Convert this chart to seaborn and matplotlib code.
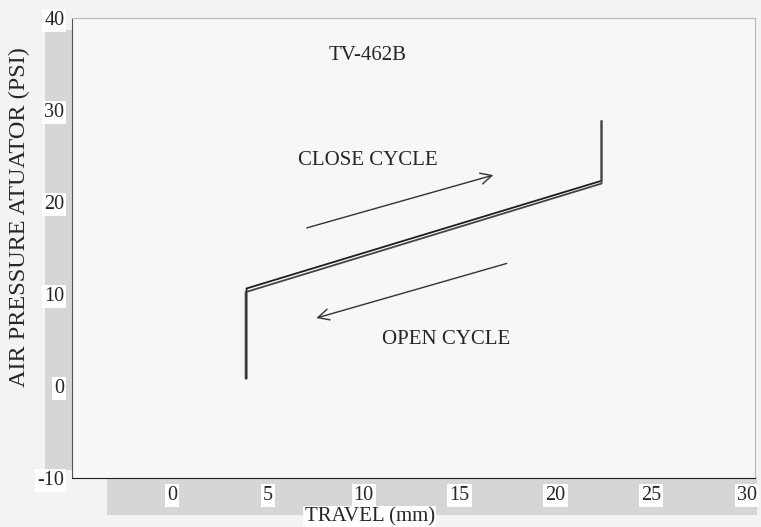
import matplotlib.pyplot as plt
import matplotlib.patches as mpatches
import seaborn as sns
import pandas as pd

# valve stroke test TV-462B
close_travel = [3.9, 3.9, 22.4, 22.4]
close_pressure = [0.8, 10.6, 22.3, 28.8]
open_travel = [22.4, 22.4, 3.85, 3.85]
open_pressure = [28.8, 22.0, 10.2, 0.8]

x_ticks = [0, 5, 10, 15, 20, 25, 30]
y_ticks = [-10, 0, 10, 20, 30, 40]

df = pd.concat([
    pd.DataFrame({'travel': close_travel, 'pressure': close_pressure, 'cycle': 'close'}),
    pd.DataFrame({'travel': open_travel, 'pressure': open_pressure, 'cycle': 'open'}),
], ignore_index=True)

sns.set_style('white')
plt.rcParams['font.family'] = ['Liberation Serif', 'DejaVu Serif']
plt.rcParams['axes.unicode_minus'] = False

fig = plt.figure(figsize=(7.61, 5.27), dpi=100, facecolor='#f3f3f3')
# scanner shading round the axes
fig.patches.append(mpatches.Rectangle((0.059, 0.108), 0.036, 0.835, transform=fig.transFigure,
                                      facecolor='#d6d6d6', edgecolor='none', zorder=-5))
fig.patches.append(mpatches.Rectangle((0.14, 0.022), 0.855, 0.072, transform=fig.transFigure,
                                      facecolor='#d6d6d6', edgecolor='none', zorder=-5))
ax = fig.add_axes([0.0946, 0.093, 0.8975, 0.873])
ax.set_facecolor('#f7f7f7')

sns.lineplot(data=df, x='travel', y='pressure', hue='cycle', palette=['#1e1e1e', '#444444'],
             sort=False, estimator=None, linewidth=1.3, legend=False, ax=ax)

ax.set_xlim(-5.2, 30.4)
ax.set_ylim(-10, 40)
ax.set_xticks(x_ticks)
ax.set_yticks(y_ticks)
ax.set_xticks(range(-4, 31), minor=True)
ax.set_yticks(range(-10, 41, 2), minor=True)
ax.tick_params(axis='x', which='both', direction='inout', length=6, width=0.8, pad=3, labelsize=14.5)
ax.tick_params(axis='y', which='both', direction='inout', length=5, width=0.8, pad=3, labelsize=14.5)
for lab in ax.get_xticklabels() + ax.get_yticklabels():
    lab.set_bbox(dict(facecolor='white', edgecolor='none', pad=1.5))

for side in ['top', 'right']:
    ax.spines[side].set_color('#bbbbbb')
ax.spines['left'].set_color('#555555')
ax.spines['bottom'].set_color('#222222')

ax.set_xlabel('TRAVEL (mm)', fontsize=15)
ax.set_ylabel('AIR PRESSURE ATUATOR (PSI)', fontsize=17.5)
ax.xaxis.set_label_coords(0.436, -0.063)
ax.yaxis.set_label_coords(-0.062, 0.567)
ax.xaxis.label.set_bbox(dict(facecolor='white', edgecolor='none', pad=1))

ax.text(10.2, 35.9, 'TV-462B', fontsize=15, ha='center', va='center')
ax.text(10.2, 24.5, 'CLOSE CYCLE', fontsize=15, ha='center', va='center')
ax.text(14.3, 5.1, 'OPEN CYCLE', fontsize=15, ha='center', va='center')

ax.annotate('', xy=(16.9, 23.0), xytext=(6.9, 17.1),
            arrowprops=dict(arrowstyle='->', color='#333333', lw=1.0, mutation_scale=20))
ax.annotate('', xy=(7.4, 7.3), xytext=(17.6, 13.4),
            arrowprops=dict(arrowstyle='->', color='#333333', lw=1.0, mutation_scale=20))

fig.savefig('out.png', dpi=100, facecolor=fig.get_facecolor())
